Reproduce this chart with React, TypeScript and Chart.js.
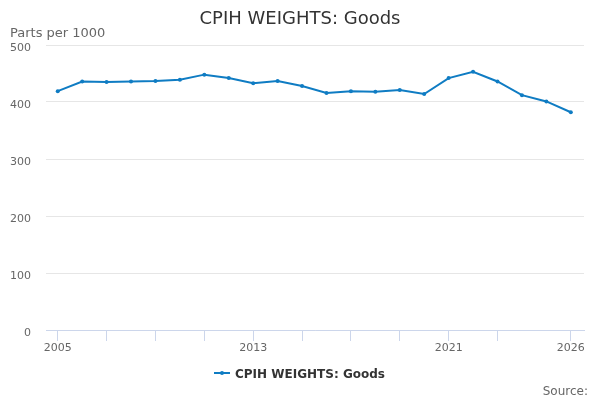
import React, { useEffect, useRef } from 'react';
import { Chart, registerables } from 'chart.js';
Chart.register(...registerables);

const years = [
	2005, 2006, 2007, 2008, 2009, 2010, 2011, 2012, 2013, 2014, 2015,
	2016, 2017, 2018, 2019, 2020, 2021, 2022, 2023, 2024, 2025, 2026,
];
const goods = [
	419, 436, 435, 436, 437, 439, 448, 442, 433, 437, 428,
	416, 419, 418, 421, 414, 442, 453, 436, 412, 401, 382,
];
const tickYears = [2005, 2007, 2009, 2011, 2013, 2015, 2017, 2019, 2021, 2023, 2026];
const labelYears = [2005, 2013, 2021, 2026];

const FONT = '"DejaVu Sans", sans-serif';
const BLUE = '#0f7cc3';

const textPlugin = {
	id: 'extraText',
	afterDraw(chart: Chart) {
		const ctx = chart.ctx;
		ctx.save();
		ctx.textBaseline = 'alphabetic';
		ctx.fillStyle = '#333333';
		ctx.font = `18px ${FONT}`;
		ctx.textAlign = 'center';
		ctx.fillText('CPIH WEIGHTS: Goods', 300, 24);

		ctx.fillStyle = '#666666';
		ctx.font = `13px ${FONT}`;
		ctx.textAlign = 'left';
		ctx.fillText('Parts per 1000', 10, 37);

		ctx.font = `12px ${FONT}`;
		ctx.textAlign = 'right';
		ctx.fillText('Source:', 588, 395);

		// legend
		ctx.strokeStyle = BLUE;
		ctx.lineWidth = 2;
		ctx.beginPath();
		ctx.moveTo(214, 373);
		ctx.lineTo(230, 373);
		ctx.stroke();
		ctx.fillStyle = BLUE;
		ctx.beginPath();
		ctx.arc(222, 373, 2, 0, Math.PI * 2);
		ctx.fill();
		ctx.fillStyle = '#333333';
		ctx.font = `bold 12px ${FONT}`;
		ctx.textAlign = 'left';
		ctx.fillText('CPIH WEIGHTS: Goods', 235, 378);
		ctx.restore();
	},
};

const App = () => {
	const canvasRef = useRef<HTMLCanvasElement>(null);

	useEffect(() => {
		if (!canvasRef.current) return;
		const chart = new Chart(canvasRef.current, {
			type: 'line',
			data: {
				datasets: [
					{
						label: 'CPIH WEIGHTS: Goods',
						data: years.map((y, i) => ({ x: y, y: goods[i] })),
						borderColor: BLUE,
						backgroundColor: BLUE,
						borderWidth: 2,
						pointRadius: 2,
						pointBorderWidth: 0,
						pointHoverRadius: 2,
						tension: 0,
					},
				],
			},
			options: {
				animation: false,
				responsive: false,
				layout: { padding: { left: 0, right: 16, top: 45, bottom: 45 } },
				plugins: {
					legend: { display: false },
					title: { display: false },
					tooltip: { enabled: false },
				},
				scales: {
					x: {
						type: 'linear',
						min: 2004.52,
						max: 2026.54,
						afterBuildTicks: (scale: any) => {
							scale.ticks = tickYears.map((v) => ({ value: v }));
						},
						afterFit: (scale: any) => {
							scale.height = 25;
						},
						ticks: {
							autoSkip: false,
							maxRotation: 0,
							padding: 1,
							color: '#666666',
							font: { family: FONT, size: 11 },
							callback: (v: any) => (labelYears.includes(Number(v)) ? String(v) : ''),
						},
						grid: {
							drawOnChartArea: false,
							drawTicks: true,
							tickLength: 11,
							tickColor: '#ccd6eb',
						},
						border: { color: '#ccd6eb', width: 1 },
					},
					y: {
						min: 0,
						max: 500,
						afterFit: (scale: any) => {
							scale.width = 46;
						},
						ticks: {
							stepSize: 100,
							padding: 15,
							labelOffset: 3,
							color: '#666666',
							font: { family: FONT, size: 11 },
						},
						grid: { color: '#e6e6e6', drawTicks: false },
						border: { display: false },
					},
				},
			},
			plugins: [textPlugin],
		});
		return () => chart.destroy();
	}, []);

	return (
		<div style={{ position: 'fixed', left: 0, top: 0, width: 600, height: 400, background: '#fff' }}>
			<canvas ref={canvasRef} width={600} height={400}></canvas>
		</div>
	);
};

export default App;
